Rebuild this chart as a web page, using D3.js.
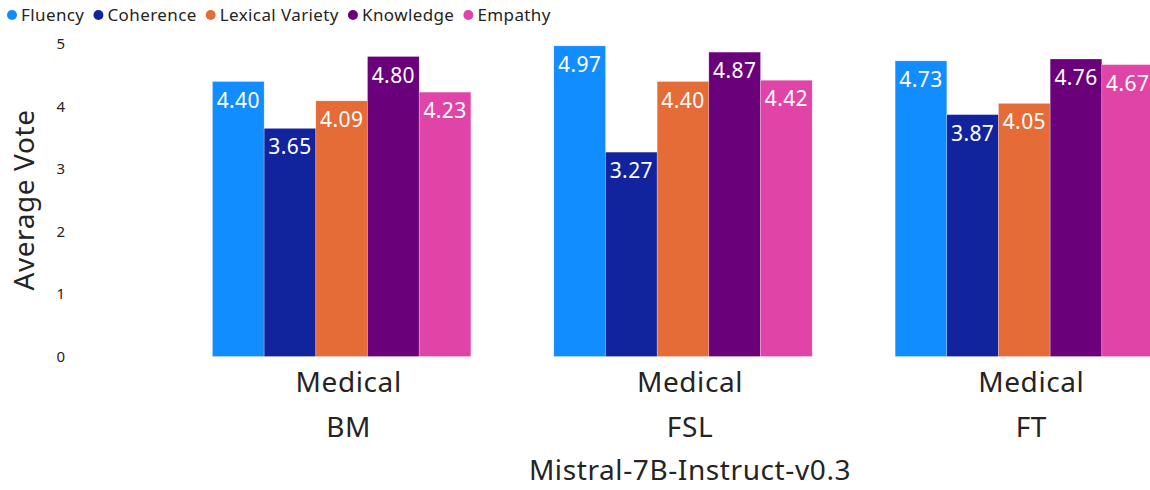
<!DOCTYPE html>
<html>
<head>
<meta charset="utf-8">
<script src="https://cdn.jsdelivr.net/npm/d3@7"></script>
<style>
  body { margin: 0; background: #fff; }
  text { font-family: "Segoe UI", "Noto Sans", "Open Sans", sans-serif; }
</style>
</head>
<body>
<script>
// chart size
const width = 1150, height = 490;

// data
const groups = ["BM", "FSL", "FT"];
const groupPrefix = "Medical";
const modelName = "Mistral-7B-Instruct-v0.3";
const metrics = ["Fluency", "Coherence", "Lexical Variety", "Knowledge", "Empathy"];
const colors = ["#118DFF", "#12239E", "#E66C37", "#6B007B", "#E044A7"];
const fluency = [4.40, 4.97, 4.73];
const coherence = [3.65, 3.27, 3.87];
const lexical = [4.09, 4.40, 4.05];
const knowledge = [4.80, 4.87, 4.76];
const empathy = [4.23, 4.42, 4.67];
const yTicks = [0, 1, 2, 3, 4, 5];

const series = [fluency, coherence, lexical, knowledge, empathy];

const svg = d3.select("body").append("svg")
  .attr("width", width)
  .attr("height", height);

// scales
const x0 = d3.scaleBand()
  .domain(groups)
  .range([171, 1195])
  .paddingInner(0.243)
  .paddingOuter(0.1215);

const x1 = d3.scaleBand()
  .domain(metrics)
  .range([0, x0.bandwidth()]);

const y = d3.scaleLinear()
  .domain([0, 5])
  .range([356.5, 44]);

const color = d3.scaleOrdinal().domain(metrics).range(colors);

// y axis (labels only)
const yAxis = svg.append("g")
  .attr("transform", "translate(65,0)")
  .call(d3.axisLeft(y).tickValues(yTicks).tickSize(0).tickPadding(0).tickFormat(d3.format("d")));
yAxis.select(".domain").remove();
yAxis.selectAll("text")
  .style("font-size", "15px")
  .attr("fill", "#252423")
  .style("font-family", "'Segoe UI', 'Noto Sans', 'Open Sans', sans-serif");

svg.append("text")
  .attr("transform", "translate(34,200) rotate(-90)")
  .attr("text-anchor", "middle")
  .attr("fill", "#252423")
  .style("font-size", "28px")
  .style("letter-spacing", "0.6px")
  .text("Average Vote");

// bars
const rows = groups.flatMap((g, gi) => metrics.map((m, mi) => ({ group: g, metric: m, value: series[mi][gi] })));

const gBars = svg.append("g");
gBars.selectAll("rect")
  .data(rows)
  .enter().append("rect")
  .attr("x", d => x0(d.group) + x1(d.metric))
  .attr("y", d => y(d.value))
  .attr("width", x1.bandwidth())
  .attr("height", d => y(0) - y(d.value))
  .attr("fill", d => color(d.metric))
  .attr("stroke", "#fff")
  .attr("stroke-opacity", 0.4)
  .attr("stroke-width", 0.6);

// value labels inside top of bars
gBars.selectAll("text.val")
  .data(rows)
  .enter().append("text")
  .attr("class", "val")
  .attr("x", d => x0(d.group) + x1(d.metric) + x1.bandwidth() / 2)
  .attr("y", d => y(d.value) + 26)
  .attr("text-anchor", "middle")
  .attr("fill", "#fff")
  .style("font-size", "21px")
  .style("letter-spacing", "0.4px")
  .text(d => d.value.toFixed(2));

// category labels
const xLab = svg.append("g")
  .style("font-size", "28px")
  .style("letter-spacing", "0.6px");
groups.forEach(g => {
  const cx = x0(g) + x0.bandwidth() / 2 + 7;
  xLab.append("text")
    .attr("x", cx).attr("y", 392)
    .attr("text-anchor", "middle")
    .attr("fill", "#252423")
    .text(groupPrefix);
  xLab.append("text")
    .attr("x", cx).attr("y", 437)
    .attr("text-anchor", "middle")
    .attr("fill", "#252423")
    .text(g);
});

svg.append("text")
  .attr("x", (x0.range()[0] + x0.range()[1]) / 2 + 7)
  .attr("y", 480)
  .attr("text-anchor", "middle")
  .attr("fill", "#252423")
  .style("font-size", "28px")
  .style("letter-spacing", "0.6px")
  .text(modelName);

// legend
const legend = svg.append("g").attr("transform", "translate(0,15)");
let lx = 7;
metrics.forEach((m, i) => {
  const item = legend.append("g").attr("transform", `translate(${lx},0)`);
  item.append("circle").attr("cx", 5).attr("cy", 0).attr("r", 5).attr("fill", colors[i]);
  const t = item.append("text")
    .attr("x", 14).attr("y", 6)
    .attr("fill", "#252423")
    .style("font-size", "17px")
    .style("letter-spacing", "0.4px")
    .text(m);
  lx += 14 + t.node().getComputedTextLength() + 9;
});
</script>
</body>
</html>
